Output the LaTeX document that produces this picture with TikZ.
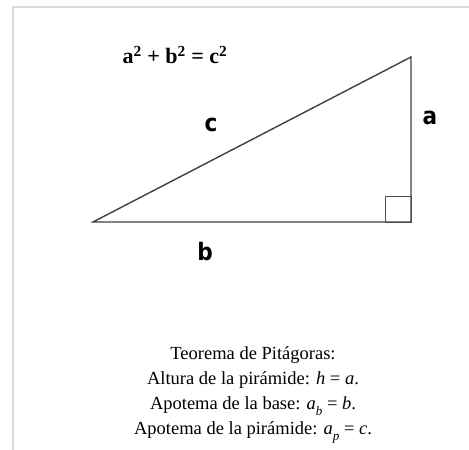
\documentclass[tikz,border=0pt]{standalone}
\usepackage{fontspec}
\setmainfont{Liberation Serif}
\newfontfamily\sidefont{DejaVu Sans Condensed}
\usetikzlibrary{positioning}
\usetikzlibrary{calc}
\begin{document}
\begin{tikzpicture}[
  x=1pt, y=-1pt,
  side/.style={draw=black!75, line width=1.4pt},
  sidelab/.style={font=\sidefont\bfseries\fontsize{24}{24}\selectfont, inner sep=0pt},
  captext/.style={font=\fontsize{18.5}{20}\selectfont, inner sep=0pt, anchor=base},
  framel/.style={draw=black!14, line width=2pt}
]
\useasboundingbox (0,0) rectangle (469,450);
\draw[framel] (13,450) -- (13,7) -- (469,7);
% triangle
\coordinate (lf) at (93,222);
\coordinate (rt) at (411,222);
\coordinate (tp) at (411,57);
\draw[side] (lf) -- (rt) -- (tp) -- cycle;
\draw[draw=black!70, line width=1pt] ($(rt)+(-26,0)$) rectangle ($(rt)+(0,-26)$);
\node[font=\bfseries\fontsize{22}{22}\selectfont, inner sep=0pt] (eq) at (175,55)
  {a\textsuperscript{2} + b\textsuperscript{2} = c\textsuperscript{2}};
\node[sidelab] (la) at (430,118) {a};
\node[sidelab] (lc) at (211,125) {c};
\node[sidelab] (lb) at (205,252) {b};
% caption
\node[captext] (t1) at (253,359) {Teorema de Pitágoras:};
\node[captext] (t2) at (253,384) {Altura de la pirámide: \textit{h} = \textit{a}.};
\node[captext] (t3) at (253,409) {Apotema de la base: \textit{a}\raisebox{-0.8ex}{\fontsize{13}{13}\selectfont\textit{b}} = \textit{b}.};
\node[captext] (t4) at (253,434) {Apotema de la pirámide: \textit{a}\raisebox{-0.8ex}{\fontsize{13}{13}\selectfont\textit{p}} = \textit{c}.};
\end{tikzpicture}
\end{document}
